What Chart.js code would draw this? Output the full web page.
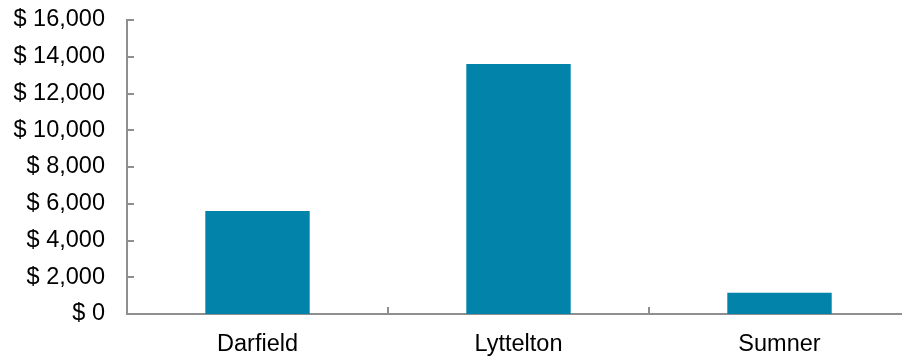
<!DOCTYPE html>
<html>
<head>
<meta charset="utf-8">
<script src="https://cdn.jsdelivr.net/npm/chart.js@4.4.1/dist/chart.umd.min.js"></script>
<style>
  html, body { margin: 0; padding: 0; background: #fff; overflow: hidden; }
  #wrap { width: 912px; height: 356px; }
</style>
</head>
<body>
<div id="wrap"><canvas id="chart" width="912" height="356"></canvas></div>
<script>
// Cost by town
const towns = ['Darfield', 'Lyttelton', 'Sumner'];
const costs = [5600, 13600, 1150];
const yTicks = [0, 2000, 4000, 6000, 8000, 10000, 12000, 14000, 16000];

const AXIS_GREY = '#8f8f8f';
const BAR_TEAL = '#0283a9';
const FONT = { family: 'Liberation Sans, Arial, sans-serif', size: 23.5 };

// Short tick marks drawn on the inner side of both axes
const innerTicks = {
  id: 'innerTicks',
  afterDatasetsDraw(chart) {
    const { ctx, scales: { x, y } } = chart;
    ctx.save();
    ctx.strokeStyle = AXIS_GREY;
    ctx.lineWidth = 2;
    ctx.beginPath();
    y.ticks.forEach((t, i) => {
      const py = Math.round(y.getPixelForTick(i));
      ctx.moveTo(x.left, py);
      ctx.lineTo(x.left + 7, py);
    });
    for (let i = 1; i < towns.length; i++) {
      const px = Math.round((x.getPixelForValue(i - 1) + x.getPixelForValue(i)) / 2);
      ctx.moveTo(px, y.bottom);
      ctx.lineTo(px, y.bottom - 7);
    }
    ctx.stroke();
    ctx.restore();
  }
};

new Chart(document.getElementById('chart'), {
  type: 'bar',
  data: {
    labels: towns,
    datasets: [{
      data: costs,
      backgroundColor: BAR_TEAL,
      borderWidth: 0,
      categoryPercentage: 1,
      barPercentage: 0.4
    }]
  },
  options: {
    responsive: false,
    animation: false,
    layout: { padding: { top: 20, right: 2, left: 0, bottom: 0 } },
    plugins: { legend: { display: false }, tooltip: { enabled: false } },
    scales: {
      x: {
        grid: { display: false, drawTicks: false },
        border: { display: true, color: AXIS_GREY, width: 2 },
        ticks: { color: '#000', padding: 16, font: FONT },
        afterFit(scale) {
          scale.height = 42;
          scale.paddingLeft = 0;
          scale.paddingRight = 0;
        }
      },
      y: {
        min: 0,
        max: 16000,
        afterBuildTicks(scale) { scale.ticks = yTicks.map(v => ({ value: v })); },
        grid: { display: false, drawTicks: false },
        border: { display: true, color: AXIS_GREY, width: 2 },
        ticks: {
          color: '#000',
          padding: 22,
          font: FONT,
          callback: v => '$ ' + Number(v).toLocaleString('en-US')
        },
        afterFit(scale) {
          scale.width = 127;
          scale.paddingTop = 0;
          scale.paddingBottom = 0;
        }
      }
    }
  },
  plugins: [innerTicks]
});
</script>
</body>
</html>
